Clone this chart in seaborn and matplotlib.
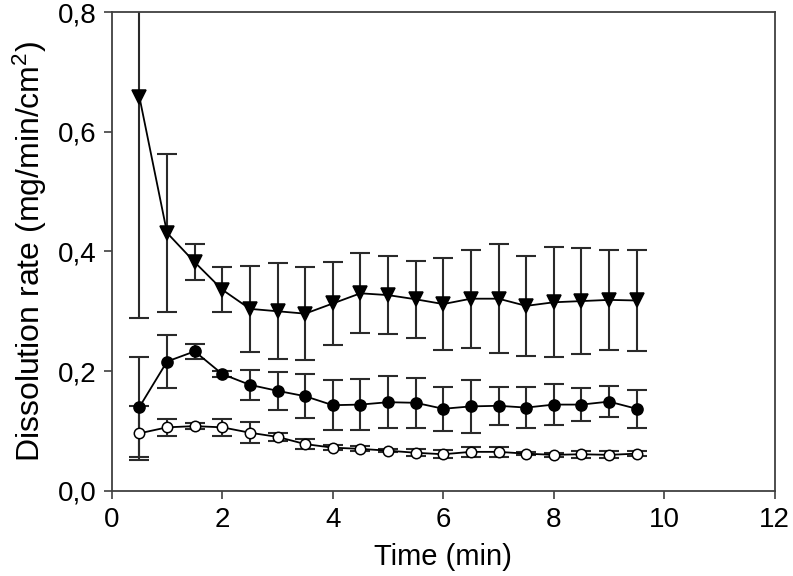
import numpy as np
import pandas as pd
import seaborn as sns
import matplotlib
matplotlib.use("Agg")
import matplotlib.pyplot as plt
from matplotlib.ticker import FuncFormatter

# time points (min)
time = [0.5, 1.0, 1.5, 2.0, 2.5, 3.0, 3.5, 4.0, 4.5, 5.0,
        5.5, 6.0, 6.5, 7.0, 7.5, 8.0, 8.5, 9.0, 9.5]

# triangles
tri = [0.658, 0.431, 0.382, 0.336, 0.304, 0.300, 0.296, 0.313, 0.330, 0.327,
       0.320, 0.312, 0.321, 0.321, 0.309, 0.315, 0.317, 0.319, 0.318]
tri_err = [0.37, 0.132, 0.030, 0.038, 0.072, 0.080, 0.078, 0.070, 0.067, 0.065,
           0.064, 0.077, 0.082, 0.091, 0.084, 0.092, 0.089, 0.084, 0.085]

# filled circles
fill = [0.140, 0.216, 0.233, 0.195, 0.177, 0.167, 0.158, 0.143, 0.144, 0.148,
        0.147, 0.137, 0.141, 0.142, 0.139, 0.144, 0.144, 0.149, 0.137]
fill_err = [0.083, 0.044, 0.012, 0.005, 0.025, 0.032, 0.037, 0.042, 0.043, 0.043,
            0.042, 0.037, 0.044, 0.032, 0.034, 0.034, 0.027, 0.026, 0.032]

# open circles
opn = [0.096, 0.106, 0.108, 0.106, 0.097, 0.090, 0.078, 0.072, 0.070, 0.067,
       0.0635, 0.061, 0.065, 0.065, 0.062, 0.060, 0.061, 0.060, 0.062]
opn_err = [0.045, 0.014, 0.005, 0.014, 0.018, 0.007, 0.008, 0.004, 0.004, 0.003,
           0.006, 0.007, 0.008, 0.008, 0.003, 0.003, 0.006, 0.006, 0.004]

sns.set_style("ticks")
plt.rcParams['font.family'] = ['Liberation Sans', 'DejaVu Sans']
plt.rcParams['mathtext.fontset'] = 'custom'
plt.rcParams['mathtext.rm'] = 'Liberation Sans'
plt.rcParams['text.color'] = 'black'
plt.rcParams['axes.labelcolor'] = 'black'
plt.rcParams['xtick.labelcolor'] = 'black'
plt.rcParams['ytick.labelcolor'] = 'black'

fig = plt.figure(figsize=(7.93, 5.76), dpi=100)
ax = fig.add_axes([0.141, 0.148, 0.836, 0.831])

series = [
    (opn, opn_err, 'o', 'white', 7.5),
    (fill, fill_err, 'o', 'black', 8),
    (tri, tri_err, 'v', 'black', 9.5),
]
for vals, errs, mk, fc, ms in series:
    ax.errorbar(time, vals, yerr=errs, fmt='none', ecolor='#2a2a2a',
                elinewidth=1.5, capsize=7, capthick=1.5, zorder=2)
    df = pd.DataFrame({'t': time, 'v': vals})
    sns.lineplot(data=df, x='t', y='v', ax=ax, color='black', linewidth=1.3,
                 marker=mk, markersize=ms, markerfacecolor=fc,
                 markeredgecolor='black', markeredgewidth=1.1, zorder=3)

ax.set_xlim(0, 12)
ax.set_ylim(0, 0.8)
ax.set_xticks(range(0, 13, 2))
ax.set_yticks([0, 0.2, 0.4, 0.6, 0.8])
ax.yaxis.set_major_formatter(FuncFormatter(lambda v, p: f"{v:.1f}".replace('.', ',')))
ax.tick_params(direction='out', length=6, width=1.2, labelsize=20, color='#404040')
ax.tick_params(axis='y', pad=5)
ax.tick_params(axis='x', pad=6)
for s in ax.spines.values():
    s.set_linewidth(1.3)
    s.set_color('#404040')
ax.set_xlabel("Time (min)", fontsize=21, labelpad=7)
ax.set_ylabel("Dissolution rate (mg/min/cm$\\mathregular{^2}$)", fontsize=23, labelpad=6)

fig.savefig("out.png", dpi=100)
